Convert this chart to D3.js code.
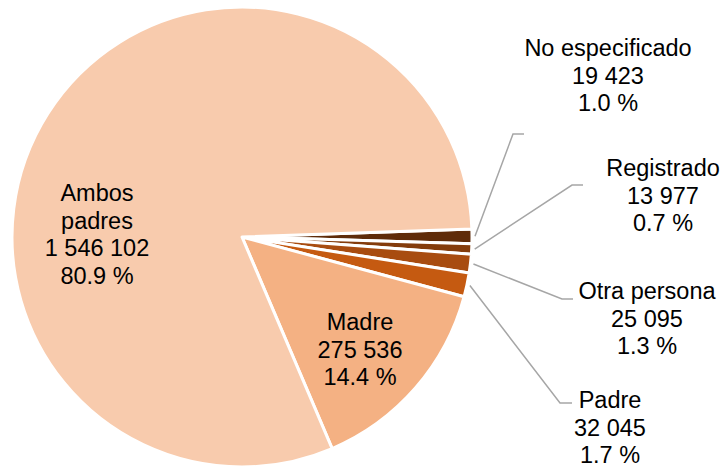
<!DOCTYPE html>
<html>
<head>
<meta charset="utf-8">
<script src="https://cdn.jsdelivr.net/npm/d3@7"></script>
<style>
  body { margin: 0; background: #fff; }
  text { font-family: "Liberation Sans", Arial, sans-serif; font-size: 23.5px; fill: #000; }
</style>
</head>
<body>
<div id="chart"></div>
<script>
const width = 723, height = 468;

// data, in clockwise drawing order
const categories = ['No especificado', 'Registrado', 'Otra persona', 'Padre', 'Madre', 'Ambos padres'];
const values = [19423, 13977, 25095, 32045, 275536, 1546102];
const colors = ['#5f2b09', '#843c0c', '#a84c10', '#c55a11', '#f4b183', '#f8cbad'];

// label layout (outside labels get a leader line with an elbow)
const labelLayout = {
  'No especificado': {outside: true, elbow: [513, 134], end: [524, 134], tx: 608, ty: 56},
  'Registrado':      {outside: true, elbow: [572, 185], end: [583, 185], tx: 663, ty: 176},
  'Otra persona':    {outside: true, elbow: [562, 299], end: [573, 299], tx: 647, ty: 299},
  'Padre':           {outside: true, elbow: [560, 403], end: [572, 403], tx: 610, ty: 408},
  'Madre':           {outside: false, tx: 360, ty: 330},
  'Ambos padres':    {outside: false, tx: 97, ty: 201, lines: ['Ambos', 'padres']}
};

const cx = 242, cy = 237, radius = 230;
const startDeg = 88;

const locale = d3.formatLocale({decimal: '.', thousands: ' ', grouping: [3], currency: ['', '']});
const fmtNum = locale.format(',d');
const total = d3.sum(values);
const fmtPct = v => (v / total * 100).toFixed(1) + ' %';

const data = categories.map((c, i) => ({name: c, value: values[i], color: colors[i]}));

const svg = d3.select('#chart').append('svg')
  .attr('width', width).attr('height', height);

const pie = d3.pie()
  .sort(null)
  .value(d => d.value)
  .startAngle(startDeg * Math.PI / 180)
  .endAngle(startDeg * Math.PI / 180 + 2 * Math.PI);

const arc = d3.arc().innerRadius(0).outerRadius(radius);

const arcs = pie(data);

const g = svg.append('g').attr('transform', 'translate(' + cx + ',' + cy + ')');

g.selectAll('path.slice')
  .data(arcs)
  .enter()
  .append('path')
  .attr('class', 'slice')
  .attr('d', arc)
  .attr('fill', d => d.data.color)
  .attr('stroke', '#fff')
  .attr('stroke-width', 3)
  .attr('stroke-linejoin', 'round');

// leader lines
const outside = arcs.filter(d => labelLayout[d.data.name].outside);
svg.append('g').selectAll('polyline')
  .data(outside)
  .enter()
  .append('polyline')
  .attr('points', d => {
    const L = labelLayout[d.data.name];
    const a = (d.startAngle + d.endAngle) / 2;
    const r0 = radius + 3;
    const p0 = [cx + r0 * Math.sin(a), cy - r0 * Math.cos(a)];
    return [p0, L.elbow, L.end].map(p => p.join(',')).join(' ');
  })
  .attr('fill', 'none')
  .attr('stroke', '#a6a6a6')
  .attr('stroke-width', 1.5);

// labels
const lineH = 27.5;
const labels = svg.append('g').selectAll('text')
  .data(arcs)
  .enter()
  .append('text')
  .attr('text-anchor', 'middle');

labels.each(function(d) {
  const L = labelLayout[d.data.name];
  const lines = (L.lines || [d.data.name]).concat([fmtNum(d.data.value), fmtPct(d.data.value)]);
  d3.select(this).selectAll('tspan')
    .data(lines)
    .enter()
    .append('tspan')
    .attr('x', L.tx)
    .attr('y', (t, i) => L.ty + i * lineH)
    .text(t => t);
});
</script>
</body>
</html>
